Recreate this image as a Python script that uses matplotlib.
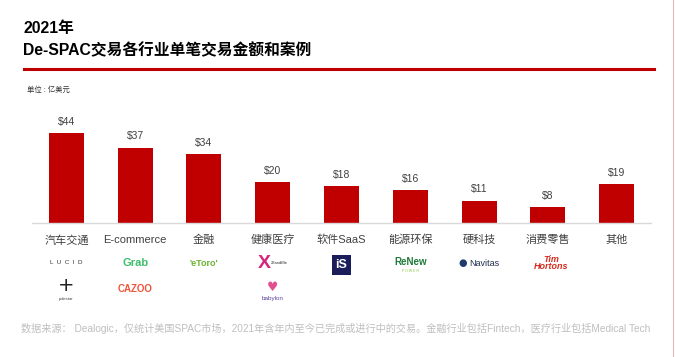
import matplotlib.pyplot as plt
import matplotlib.transforms as mtransforms
from matplotlib.lines import Line2D

plt.rcParams['font.family'] = ['Liberation Sans', 'Noto Sans CJK SC', 'DejaVu Sans']

# 单笔交易金额 (亿美元)
categories = ['汽车交通', 'E-commerce', '金融', '健康医疗', '软件SaaS', '能源环保', '硬科技', '消费零售', '其他']
values = [44, 37, 34, 20, 18, 16, 11, 8, 19]
value_labels = ['$44', '$37', '$34', '$20', '$18', '$16', '$11', '$8', '$19']

red = '#C00000'

fig = plt.figure(figsize=(6.75, 3.57), dpi=100)
ax = fig.add_axes([32 / 675, 134 / 357, 619 / 675, 104 / 357])

x = list(range(len(categories)))
ax.bar(x, values, width=0.51, color=red, zorder=2)
for xi, v, lab in zip(x, values, value_labels):
    ax.text(xi, v + 3, lab, ha='center', va='bottom', fontsize=7.5, color='#404040')

ax.set_xlim(-0.5, 8.5)
ax.set_ylim(0, 51)
ax.set_xticks([])
ax.set_yticks([])
for s in ['top', 'right', 'left']:
    ax.spines[s].set_visible(False)
ax.spines['bottom'].set_color('#D9D9D9')
ax.spines['bottom'].set_linewidth(1)

# x 用数据坐标, y 用图坐标
tr = mtransforms.blended_transform_factory(ax.transData, fig.transFigure)

for xi, c in zip(x, categories):
    fig.text(xi, 1 - 240 / 357, c, transform=tr, ha='center', va='center',
             fontsize=8, color='#404040')

# 案例 (logo 用文字代替)
y1 = 1 - 263 / 357
y2 = 1 - 289 / 357
fig.text(0, y1, 'L  U  C  I  D', transform=tr, ha='center', va='center', fontsize=4.5, color='#333333')
fig.text(1, y1, 'Grab', transform=tr, ha='center', va='center', fontsize=8, color='#3DBE6A', fontweight='bold')
fig.text(2, y1, "'eToro'", transform=tr, ha='center', va='center', fontsize=6.5, color='#69B32E', fontweight='bold')
fig.text(2.88, y1, 'X', transform=tr, ha='center', va='center', fontsize=14, color='#D6247D', fontweight='bold')
fig.text(3.1, y1, '23andMe', transform=tr, ha='center', va='center', fontsize=3, color='#333333')
fig.text(4, y1 - 0.005, 'iS', transform=tr, ha='center', va='center', fontsize=9, color='white', fontweight='bold',
         bbox=dict(boxstyle='square,pad=0.3', facecolor='#1B1C5A', edgecolor='none'))
fig.text(5, y1 + 0.004, 'ReNew', transform=tr, ha='center', va='center', fontsize=7, color='#1F7A3A', fontweight='bold')
fig.text(5, y1 - 0.022, 'P O W E R', transform=tr, ha='center', va='center', fontsize=2.5, color='#8CC63F')
fig.text(5.76, y1, '●', transform=tr, ha='center', va='center', fontsize=7, color='#1F3B6E', family='DejaVu Sans')
fig.text(6.07, y1, 'Navitas', transform=tr, ha='center', va='center', fontsize=6.5, color='#1F2F4E')
fig.text(7.05, y1, 'Tim\nHortons', transform=tr, ha='center', va='center', fontsize=6.5, color='#D52B1E',
         style='italic', fontweight='bold', linespacing=0.85)

fig.text(0, y2 + 0.01, '+', transform=tr, ha='center', va='center', fontsize=14, color='#222222', family='DejaVu Sans')
fig.text(0, y2 - 0.027, 'polestar', transform=tr, ha='center', va='center', fontsize=3, color='#444444')
fig.text(1, y2, 'CAZOO', transform=tr, ha='center', va='center', fontsize=7, color='#F0533A', fontweight='bold')
fig.text(3, y2 + 0.005, '♥', transform=tr, ha='center', va='center', fontsize=9, color='#E0528F', family='DejaVu Sans')
fig.text(3, y2 - 0.028, 'babylon', transform=tr, ha='center', va='center', fontsize=4.5, color='#5A3FA0')

# 标题
fig.text(23 / 675, 1 - 28 / 357, '2021年', ha='left', va='center', fontsize=11.3, fontweight='bold', color='black')
fig.text(23 / 675, 1 - 50 / 357, 'De-SPAC交易各行业单笔交易金额和案例', ha='left', va='center',
         fontsize=11.3, fontweight='bold', color='black')
fig.add_artist(Line2D([24 / 675, 654 / 675], [1 - 69 / 357, 1 - 69 / 357], color=red, linewidth=2.2,
                      transform=fig.transFigure))
fig.add_artist(Line2D([673 / 675, 673 / 675], [0, 1], color='#E6B8B8', linewidth=0.8,
                      transform=fig.transFigure))
fig.text(27 / 675, 1 - 90 / 357, '单位 : 亿美元', ha='left', va='center', fontsize=5.3, color='#333333')

fig.text(21 / 675, 1 - 328 / 357,
         '数据来源： Dealogic，仅统计美国SPAC市场，2021年含年内至今已完成或进行中的交易。金融行业包括Fintech，医疗行业包括Medical Tech',
         ha='left', va='center', fontsize=7.3, color='#BFBFBF')

plt.savefig('out.png', dpi=100)
